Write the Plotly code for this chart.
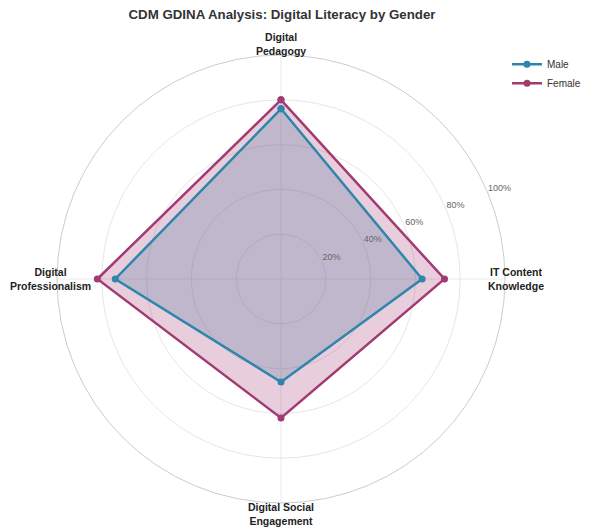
import math
import plotly.graph_objects as go

# Data
categories = ['Digital<br>Pedagogy', 'IT Content<br>Knowledge',
              'Digital Social<br>Engagement', 'Digital<br>Professionalism']
angles = [90, 0, 270, 180]  # degrees, Pedagogy at top, going clockwise
male = [0.76, 0.63, 0.46, 0.74]
female = [0.80, 0.73, 0.62, 0.82]
radial_ticks = [0.2, 0.4, 0.6, 0.8, 1.0]
radial_labels = ['20%', '40%', '60%', '80%', '100%']

series = [
    ('Male', male, '#2E86AB', 'rgba(46,134,171,0.25)'),
    ('Female', female, '#A23B72', 'rgba(162,59,114,0.25)'),
]

# figure geometry (page body adds an 8px margin, so the figure is a bit smaller)
W, H = 589, 522
cx, cy, rad = 273, 271, 224  # polar centre / radius in figure pixels

fig = go.Figure()

# filled areas first (no legend), lines on top
for name, vals, color, fill in series:
    fig.add_trace(go.Scatterpolar(
        r=vals + vals[:1],
        theta=angles + angles[:1],
        mode='lines',
        line=dict(width=0),
        fill='toself',
        fillcolor=fill,
        showlegend=False,
        hoverinfo='skip',
    ))

for name, vals, color, fill in series:
    fig.add_trace(go.Scatterpolar(
        r=vals + vals[:1],
        theta=angles + angles[:1],
        mode='lines+markers',
        name=name,
        line=dict(color=color, width=2.5),
        marker=dict(color=color, size=7),
    ))

# radial percentage labels along 22.5 degrees
fig.add_trace(go.Scatterpolar(
    r=radial_ticks,
    theta=[22.5] * len(radial_ticks),
    mode='text',
    text=radial_labels,
    textposition='top right',
    textfont=dict(size=9, color='#666666'),
    cliponaxis=False,
    showlegend=False,
    hoverinfo='skip',
))

# category labels just outside the outer ring
label_r = 1.05
for cat, ang in zip(categories, angles):
    px = cx + label_r * rad * math.cos(math.radians(ang))
    py = cy - label_r * rad * math.sin(math.radians(ang))
    anchor = 'center'
    if px < 42:  # keep the long left label inside the page
        px, anchor = 0, 'left'
    fig.add_annotation(
        x=px / W, y=1 - py / H, xref='paper', yref='paper',
        text=cat, showarrow=False, xanchor=anchor, yanchor='middle',
        font=dict(size=10.5, color='#222222', weight='bold'),
    )

fig.update_layout(
    width=W,
    height=H,
    margin=dict(l=0, r=0, t=0, b=0),
    paper_bgcolor='white',
    font=dict(family='Liberation Sans, Arial, sans-serif', color='#333333'),
    title=dict(
        text='<b>CDM GDINA Analysis: Digital Literacy by Gender</b>',
        x=274 / W, xanchor='center', y=1 - 6 / H, yanchor='middle',
        font=dict(size=13.3, color='#333333'),
    ),
    polar=dict(
        domain=dict(x=[(cx - rad) / W, (cx + rad) / W],
                    y=[1 - (cy + rad) / H, 1 - (cy - rad) / H]),
        bgcolor='white',
        angularaxis=dict(
            type='linear',
            thetaunit='degrees',
            rotation=0,
            direction='counterclockwise',
            tickvals=angles,
            showticklabels=False,
            showline=True,
            linecolor='#cccccc',
            linewidth=1,
            gridcolor='#ebebeb',
            ticks='',
        ),
        radialaxis=dict(
            range=[0, 1],
            tickvals=radial_ticks,
            showticklabels=False,
            showline=False,
            ticks='',
            gridcolor='#e6e6e6',
        ),
    ),
    legend=dict(
        x=578 / W, y=0.92, xanchor='right', yanchor='top',
        itemwidth=30,
        font=dict(size=10, color='#333333'),
        bgcolor='rgba(255,255,255,0)',
        traceorder='normal',
    ),
    showlegend=True,
)

fig.write_html('out.html')
